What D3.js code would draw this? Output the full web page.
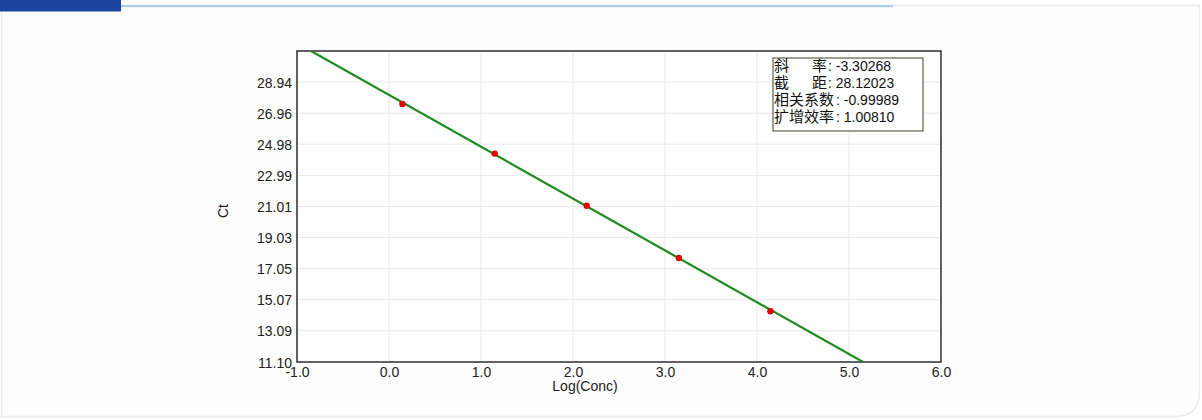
<!DOCTYPE html>
<html><head><meta charset="utf-8">
<script src="https://cdn.jsdelivr.net/npm/d3@7"></script>
<style>
html,body{margin:0;padding:0;background:#fff;}
svg{display:block;}
</style></head>
<body>
<svg id="c" width="1202" height="420"></svg>
<script>
// ---- data ----
const logConc = [0.146, 1.149, 2.149, 3.151, 4.146];
const ctValues = [27.54, 24.38, 21.06, 17.73, 14.33];
const slope = -3.30268;
const intercept = 28.12023;
const xTicks = [-1, 0, 1, 2, 3, 4, 5, 6];
const yTickLabels = ["11.10","13.09","15.07","17.05","19.03","21.01","22.99","24.98","26.96","28.94"];
const yDomain = [11.10, 30.92];
const xDomain = [-1, 6];
const legendLabels = ["斜率", "截距", "相关系数", "扩增效率"];
const legendValues = ["-3.30268", "28.12023", "-0.99989", "1.00810"];

const svg = d3.select("#c");

// page card
svg.append("path")
  .attr("d", "M1.5,5.5 H1199.5 V392 Q1199.5,416.5 1175,416.5 H1.5 Z")
  .attr("fill", "#fdfdfd").attr("stroke", "#ebebeb").attr("stroke-width", 1.5);
svg.append("rect").attr("x", 121).attr("y", 5).attr("width", 772).attr("height", 2.2).attr("fill", "#aecbec");
svg.append("rect").attr("x", 0).attr("y", 0).attr("width", 121).attr("height", 11.5).attr("fill", "#1b449d");

const L = 297, R = 941, T = 51, B = 362;
const x = d3.scaleLinear().domain(xDomain).range([L, R]);
const y = d3.scaleLinear().domain(yDomain).range([B, T]);

svg.append("rect").attr("x", L).attr("y", T).attr("width", R - L).attr("height", B - T).attr("fill", "#fff");

// grid
const g = svg.append("g");
g.selectAll(".gx").data(xTicks.slice(1, -1)).enter().append("line")
  .attr("x1", d => x(d)).attr("x2", d => x(d)).attr("y1", T).attr("y2", B)
  .attr("stroke", "#e8e8e8").attr("stroke-width", 1);
g.selectAll(".gy").data(yTickLabels.slice(1)).enter().append("line")
  .attr("x1", L).attr("x2", R).attr("y1", d => y(+d)).attr("y2", d => y(+d))
  .attr("stroke", "#e8e8e8").attr("stroke-width", 1);

// axes (labels only)
const fontAx = "'Liberation Sans', Arial, sans-serif";
const xAxis = d3.axisBottom(x).tickValues(xTicks).tickFormat(d => d.toFixed(1)).tickSize(0).tickPadding(6);
const xa = svg.append("g").attr("transform", `translate(0,${B})`).call(xAxis);
xa.select(".domain").remove();
xa.selectAll("text").attr("font-family", fontAx).attr("font-size", 14).attr("fill", "#222").attr("dy", "0.62em");

const yAxis = d3.axisLeft(y).tickValues(yTickLabels.map(Number)).tickFormat((d, i) => yTickLabels[i]).tickSize(0).tickPadding(5);
const ya = svg.append("g").attr("transform", `translate(${L},0)`).call(yAxis);
ya.select(".domain").remove();
ya.selectAll("text").attr("font-family", fontAx).attr("font-size", 14).attr("fill", "#222").attr("dy", "0.36em");

// frame
svg.append("rect").attr("x", L).attr("y", T).attr("width", R - L).attr("height", B - T)
  .attr("fill", "none").attr("stroke", "#1e1e1e").attr("stroke-width", 1.4);

// clip
svg.append("clipPath").attr("id", "clip").append("rect")
  .attr("x", L).attr("y", T).attr("width", R - L).attr("height", B - T);

// regression line
const lineData = xDomain.map(v => [v, slope * v + intercept]);
svg.append("path").datum(lineData)
  .attr("clip-path", "url(#clip)")
  .attr("d", d3.line().x(d => x(d[0])).y(d => y(d[1])))
  .attr("stroke", "#1d8a1d").attr("stroke-width", 2.2).attr("fill", "none");

// points
svg.selectAll(".pt").data(logConc).enter().append("circle")
  .attr("cx", d => x(d)).attr("cy", (d, i) => y(ctValues[i]))
  .attr("r", 3.2).attr("fill", "#e30000");

// axis titles
svg.append("text").attr("x", 585).attr("y", 391).attr("text-anchor", "middle")
  .attr("font-family", fontAx).attr("font-size", 14).attr("fill", "#222").text("Log(Conc)");
svg.append("text").attr("transform", "translate(228,211) rotate(-90)").attr("text-anchor", "middle")
  .attr("font-family", fontAx).attr("font-size", 14).attr("fill", "#222").text("Ct");

// legend box
svg.append("rect").attr("x", 773).attr("y", 58).attr("width", 150).attr("height", 73)
  .attr("fill", "#fff").attr("stroke", "#5e5e48").attr("stroke-width", 1.2);
const fontCJK = "'Noto Sans CJK SC', sans-serif";
legendLabels.forEach((lab, i) => {
  const by = 71 + i * 17;
  const two = lab.length === 2;
  const addCJK = (txt, xx) => svg.append("text").attr("x", xx).attr("y", by)
    .attr("font-family", fontCJK).attr("font-size", 15).attr("fill", "#111").text(txt);
  if (two) {
    addCJK(lab[0], 774);
    addCJK(lab[1], 812);
  } else {
    addCJK(lab, 774);
  }
  const cx = two ? 828 : 836;
  svg.append("text").attr("x", cx).attr("y", by)
    .attr("font-family", fontAx).attr("font-size", 14).attr("fill", "#111")
    .text(": " + legendValues[i]);
});
</script>
</body></html>
